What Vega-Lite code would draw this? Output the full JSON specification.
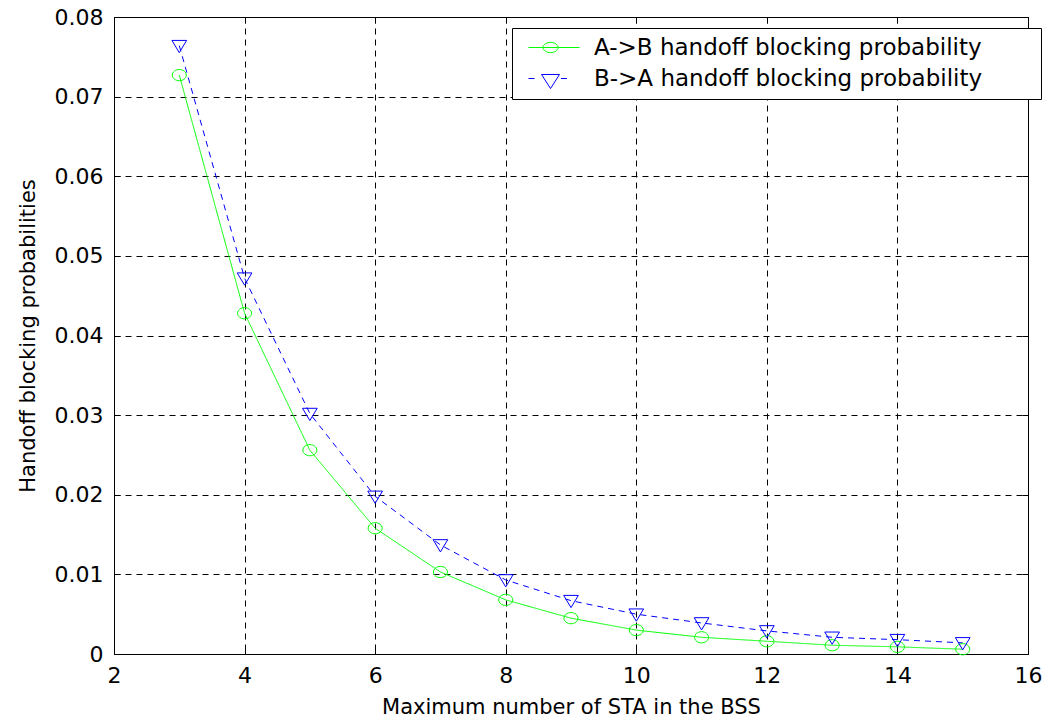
{
  "$schema": "https://vega.github.io/schema/vega-lite/v6.json",
  "width": 914,
  "height": 637,
  "autosize": "none",
  "padding": {"left": 114, "top": 17, "right": 16, "bottom": 64},
  "background": "white",
  "config": {
    "font": "DejaVu Sans",
    "view": {"stroke": "black", "strokeWidth": 1},
    "axis": {
      "labelFont": "DejaVu Sans",
      "labelFontSize": 22,
      "labelColor": "black",
      "titleFont": "DejaVu Sans",
      "titleFontSize": 21,
      "titleFontWeight": "normal",
      "titleColor": "black",
      "domain": false,
      "tickColor": "black",
      "tickSize": -6,
      "gridColor": "black",
      "gridOpacity": 1,
      "gridDash": [6, 5],
      "gridWidth": 1
    }
  },
  "data": {
    "values": [
      {"n": 3, "p": 0.0727, "series": "A->B handoff blocking probability"},
      {"n": 4, "p": 0.0428, "series": "A->B handoff blocking probability"},
      {"n": 5, "p": 0.0256, "series": "A->B handoff blocking probability"},
      {"n": 6, "p": 0.0158, "series": "A->B handoff blocking probability"},
      {"n": 7, "p": 0.0103, "series": "A->B handoff blocking probability"},
      {"n": 8, "p": 0.0068, "series": "A->B handoff blocking probability"},
      {"n": 9, "p": 0.0045, "series": "A->B handoff blocking probability"},
      {"n": 10, "p": 0.0030, "series": "A->B handoff blocking probability"},
      {"n": 11, "p": 0.0021, "series": "A->B handoff blocking probability"},
      {"n": 12, "p": 0.0016, "series": "A->B handoff blocking probability"},
      {"n": 13, "p": 0.0011, "series": "A->B handoff blocking probability"},
      {"n": 14, "p": 0.0009, "series": "A->B handoff blocking probability"},
      {"n": 15, "p": 0.0006, "series": "A->B handoff blocking probability"},
      {"n": 3, "p": 0.0764, "series": "B->A handoff blocking probability"},
      {"n": 4, "p": 0.0472, "series": "B->A handoff blocking probability"},
      {"n": 5, "p": 0.0302, "series": "B->A handoff blocking probability"},
      {"n": 6, "p": 0.0198, "series": "B->A handoff blocking probability"},
      {"n": 7, "p": 0.0137, "series": "B->A handoff blocking probability"},
      {"n": 8, "p": 0.0093, "series": "B->A handoff blocking probability"},
      {"n": 9, "p": 0.0067, "series": "B->A handoff blocking probability"},
      {"n": 10, "p": 0.0050, "series": "B->A handoff blocking probability"},
      {"n": 11, "p": 0.0039, "series": "B->A handoff blocking probability"},
      {"n": 12, "p": 0.0029, "series": "B->A handoff blocking probability"},
      {"n": 13, "p": 0.0021, "series": "B->A handoff blocking probability"},
      {"n": 14, "p": 0.0018, "series": "B->A handoff blocking probability"},
      {"n": 15, "p": 0.0014, "series": "B->A handoff blocking probability"}
    ]
  },
  "resolve": {"axis": {"x": "independent", "y": "independent"}, "scale": {"shape": "independent", "color": "independent"}},
  "layer": [
    {
      "mark": {"type": "line", "strokeWidth": 1},
      "encoding": {
        "x": {
          "field": "n", "type": "quantitative",
          "scale": {"domain": [2, 16], "nice": false, "zero": false},
          "axis": {"orient": "bottom", "values": [2, 4, 6, 8, 10, 12, 14, 16], "title": "Maximum number of STA in the BSS", "labelPadding": 17, "titlePadding": 10, "labelFlush": false}
        },
        "y": {
          "field": "p", "type": "quantitative",
          "scale": {"domain": [0, 0.08], "nice": false},
          "axis": {"orient": "left", "values": [0, 0.01, 0.02, 0.03, 0.04, 0.05, 0.06, 0.07, 0.08], "format": ".2f", "labelExpr": "datum.value === 0 ? '0' : datum.label", "title": "Handoff blocking probabilities", "labelPadding": 17, "titlePadding": 16, "labelFlush": false}
        },
        "stroke": {
          "field": "series", "type": "nominal",
          "scale": {"domain": ["A->B handoff blocking probability", "B->A handoff blocking probability"], "range": ["#00ff00", "#0000ff"]},
          "legend": null
        },
        "strokeDash": {
          "field": "series", "type": "nominal",
          "scale": {"domain": ["A->B handoff blocking probability", "B->A handoff blocking probability"], "range": [[1, 0], [6, 5]]},
          "legend": null
        }
      }
    },
    {
      "mark": {"type": "point", "filled": false, "size": 196, "strokeWidth": 1, "opacity": 1},
      "encoding": {
        "x": {
          "field": "n", "type": "quantitative",
          "axis": {"orient": "top", "values": [2, 4, 6, 8, 10, 12, 14, 16], "labels": false, "grid": false, "title": null}
        },
        "y": {
          "field": "p", "type": "quantitative",
          "axis": {"orient": "right", "values": [0, 0.01, 0.02, 0.03, 0.04, 0.05, 0.06, 0.07, 0.08], "labels": false, "grid": false, "title": null}
        },
        "shape": {
          "field": "series", "type": "nominal",
          "scale": {"domain": ["A->B handoff blocking probability", "B->A handoff blocking probability"], "range": ["M1,0A1,0.8 0 1 1 -1,0A1,0.8 0 1 1 1,0Z", "M-1.05,-0.75L1.05,-0.75L0,1Z"]},
          "legend": null
        },
        "stroke": {
          "field": "series", "type": "nominal",
          "legend": null
        }
      }
    },
    {
      "mark": {"type": "point", "filled": false, "size": 144, "strokeWidth": 1, "opacity": 0},
      "encoding": {
        "x": {"field": "n", "type": "quantitative", "axis": null},
        "y": {"field": "p", "type": "quantitative", "axis": null},
        "shape": {
          "field": "series", "type": "nominal",
          "scale": {"domain": ["A->B handoff blocking probability", "B->A handoff blocking probability"], "range": ["M-0.5,0L8,0M4.42,0A1.25,0.85 0 1 1 1.92,0A1.25,0.85 0 1 1 4.42,0Z", "M-0.5,0L0.5,0M1.67,-0.67L4.67,-0.67L3.17,1.67ZM4.9,0L5.9,0"]},
          "legend": {
            "title": null,
            "orient": "none",
            "legendX": 398,
            "legendY": 11,
            "direction": "vertical",
            "padding": 8,
            "strokeColor": "black",
            "fillColor": "white",
            "symbolSize": 144,
            "symbolStrokeWidth": 1,
            "symbolOpacity": 1,
            "labelFont": "DejaVu Sans",
            "labelFontSize": 23,
            "labelColor": "black",
            "labelOffset": 51,
            "labelLimit": 700,
            "labelExpr": "datum.label + '\u2800\u2800\u2800'",
            "rowPadding": 7
          }
        },
        "color": {
          "field": "series", "type": "nominal",
          "scale": {"domain": ["A->B handoff blocking probability", "B->A handoff blocking probability"], "range": ["#00ff00", "#0000ff"]},
          "legend": {
            "title": null,
            "orient": "none",
            "legendX": 398,
            "legendY": 11,
            "direction": "vertical",
            "padding": 8,
            "strokeColor": "black",
            "fillColor": "white",
            "symbolSize": 144,
            "symbolStrokeWidth": 1,
            "symbolOpacity": 1,
            "labelFont": "DejaVu Sans",
            "labelFontSize": 23,
            "labelColor": "black",
            "labelOffset": 51,
            "labelLimit": 700,
            "labelExpr": "datum.label + '\u2800\u2800\u2800'",
            "rowPadding": 7
          }
        }
      }
    }
  ]
}
